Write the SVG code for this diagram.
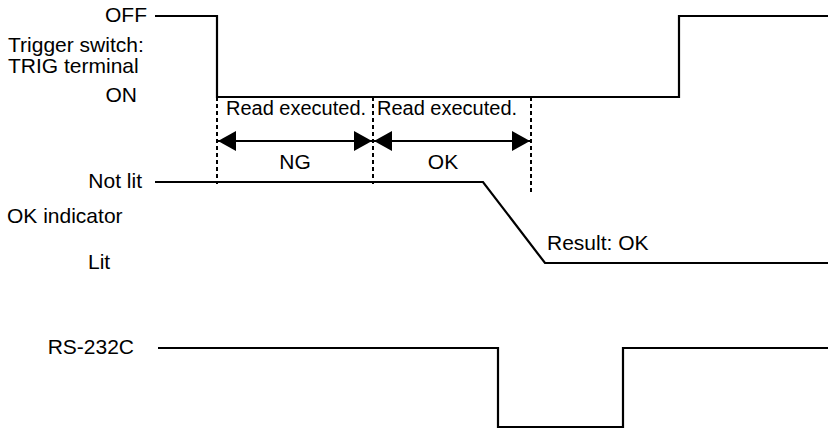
<svg xmlns="http://www.w3.org/2000/svg" width="829" height="429" viewBox="0 0 829 429">
<defs>
<style>
text{font-family:"Liberation Sans",Arial,sans-serif;font-size:21px;fill:#000}
text.s{font-size:20px}
.sig{fill:none;stroke:#000;stroke-width:2.2}
.dash{fill:none;stroke:#000;stroke-width:2;stroke-dasharray:4 3}
.arr{fill:none;stroke:#000;stroke-width:2}
.r{text-anchor:end}
.m{text-anchor:middle}
</style>
<marker id="ah" viewBox="0 0 18 20" refX="18" refY="10" markerWidth="18" markerHeight="20" markerUnits="userSpaceOnUse" orient="auto-start-reverse">
<path d="M0,0 L18,10 L0,20 Z" fill="#000"/>
</marker>
</defs>
<rect width="829" height="429" fill="#fff"/>
<g id="labels">
<text x="147" y="22" class="r">OFF</text>
<text x="8" y="52">Trigger switch:</text>
<text x="8" y="73">TRIG terminal</text>
<text x="137" y="102" class="r">ON</text>
<text x="142" y="188" class="r">Not lit</text>
<text x="7" y="223">OK indicator</text>
<text x="88" y="269">Lit</text>
<text x="134" y="354" class="r">RS-232C</text>
<text x="226" y="115" class="s">Read executed.</text>
<text x="377" y="115" class="s">Read executed.</text>
<text x="295" y="169" class="m">NG</text>
<text x="443" y="169" class="m">OK</text>
<text x="547" y="250">Result: OK</text>
</g>
<g id="connectors">
<polyline class="sig" points="155,16 217,16 217,97 679,97 679,16 828,16"/>
<polyline class="sig" points="155,182 483,182 545,263 828,263"/>
<polyline class="sig" points="158,348 498,348 498,427 623,427 623,348 828,348"/>
<line class="dash" x1="217" y1="97" x2="217" y2="184"/>
<line class="dash" x1="373" y1="97" x2="373" y2="184"/>
<line class="dash" x1="531" y1="97" x2="531" y2="194"/>
<line class="arr" x1="218" y1="141" x2="372" y2="141" marker-start="url(#ah)" marker-end="url(#ah)"/>
<line class="arr" x1="374" y1="141" x2="530" y2="141" marker-start="url(#ah)" marker-end="url(#ah)"/>
</g>
</svg>
